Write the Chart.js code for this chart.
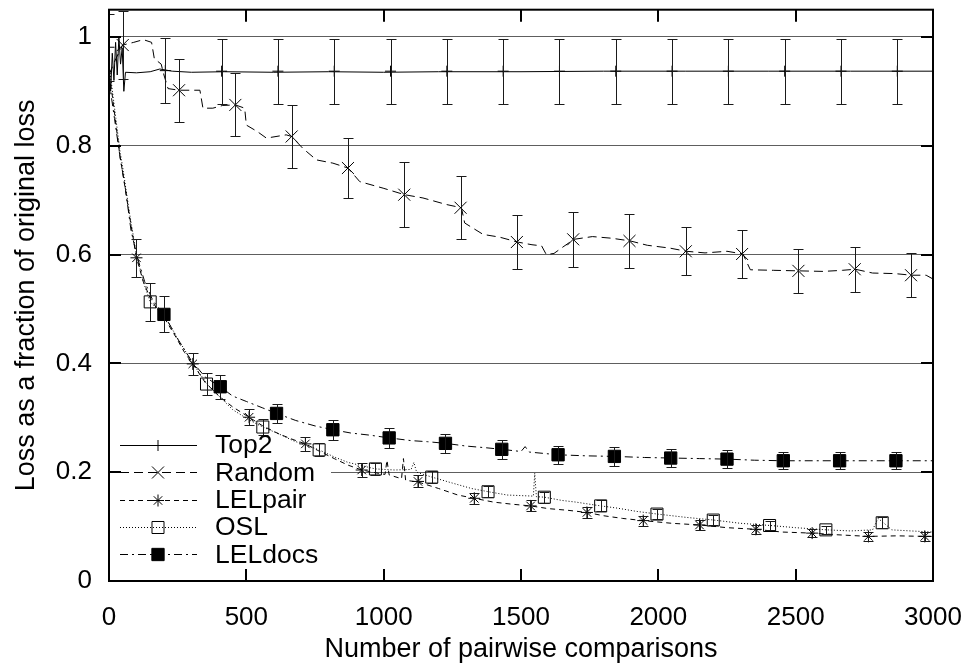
<!DOCTYPE html>
<html>
<head>
<meta charset="utf-8">
<script src="https://cdn.jsdelivr.net/npm/chart.js@4.4.1/dist/chart.umd.min.js"></script>
<style>
  html, body { margin: 0; padding: 0; background: #fff; }
  #wrap { width: 972px; height: 666px; }
</style>
</head>
<body>
<div id="wrap"><canvas id="lossChart" width="972" height="666"></canvas></div>
<script>
// axes
const xTicks = [0, 500, 1000, 1500, 2000, 2500, 3000];
const yTicks = [0, 0.2, 0.4, 0.6, 0.8, 1];
const seriesNames = ['Top2', 'Random', 'LELpair', 'OSL', 'LELdocs'];

// lines, [comparisons, loss]
const top2Line = [[0,0.96],[6,0.90],[12,0.97],[18,0.92],[24,0.99],[30,0.93],[36,1.0],[42,0.95],[48,0.98],[54,0.90],[60,0.935],
  [100,0.934],[150,0.936],[185,0.941],[230,0.937],[300,0.935],[420,0.936],[600,0.935],[800,0.936],[1000,0.935],
  [1200,0.936],[1500,0.936],[1800,0.937],[2100,0.937],[2400,0.937],[2700,0.937],[3000,0.937]];

const randomLine = [[0,0.93],[25,0.96],[50,0.985],[90,0.99],[125,0.995],[155,0.99],[165,0.96],[190,0.95],[200,0.93],
  [215,0.905],[255,0.902],[331,0.902],[342,0.869],[378,0.869],[414,0.874],[460,0.875],[494,0.869],[500,0.838],
  [540,0.826],[573,0.814],[645,0.82],[665,0.817],[706,0.795],[755,0.774],[815,0.768],[870,0.759],[913,0.734],
  [998,0.722],[1076,0.71],[1143,0.704],[1228,0.692],[1283,0.686],[1295,0.658],[1362,0.637],[1422,0.632],
  [1487,0.623],[1540,0.618],[1575,0.616],[1592,0.600],[1620,0.602],[1653,0.614],[1693,0.628],[1760,0.633],
  [1830,0.630],[1898,0.625],[1960,0.617],[2040,0.612],[2102,0.606],[2170,0.603],[2250,0.606],[2308,0.601],
  [2335,0.572],[2420,0.571],[2512,0.570],[2600,0.569],[2670,0.571],[2717,0.573],[2780,0.566],[2860,0.565],
  [2923,0.562],[2975,0.562],[3000,0.555]];

const lelpairLine = [[0,0.93],[10,0.90],[20,0.86],[30,0.82],[40,0.78],[50,0.75],[75,0.67],[100,0.594],[125,0.55],
  [150,0.52],[175,0.50],[200,0.485],[245,0.447],[275,0.42],[305,0.399],[350,0.365],[400,0.34],[450,0.32],
  [510,0.301],[560,0.285],[620,0.27],[670,0.26],[715,0.252],[760,0.24],[820,0.225],[870,0.213],[920,0.204],
  [980,0.198],[1005,0.196],[1012,0.222],[1020,0.195],[1065,0.188],[1072,0.225],[1080,0.185],[1125,0.182],
  [1200,0.17],[1270,0.158],[1330,0.152],[1400,0.145],[1470,0.141],[1535,0.138],[1600,0.133],[1670,0.13],
  [1740,0.126],[1800,0.12],[1870,0.115],[1945,0.111],[2050,0.106],[2150,0.103],[2250,0.098],[2355,0.095],
  [2450,0.09],[2560,0.088],[2650,0.085],[2765,0.082],[2870,0.083],[2970,0.082],[3000,0.082]];

const oslLine = [[0,0.95],[10,0.91],[20,0.87],[30,0.83],[40,0.79],[50,0.76],[75,0.675],[100,0.60],[125,0.55],
  [150,0.513],[175,0.50],[200,0.49],[245,0.45],[275,0.425],[305,0.40],[357,0.362],[400,0.34],[450,0.315],
  [510,0.296],[560,0.283],[620,0.27],[670,0.258],[765,0.241],[820,0.228],[870,0.218],[920,0.212],[970,0.206],
  [1040,0.204],[1100,0.205],[1110,0.218],[1120,0.2],[1175,0.191],[1250,0.18],[1320,0.17],[1382,0.164],
  [1450,0.158],[1545,0.156],[1550,0.198],[1556,0.155],[1586,0.154],[1650,0.148],[1700,0.145],[1791,0.138],
  [1850,0.134],[1920,0.128],[1997,0.123],[2100,0.117],[2202,0.112],[2300,0.106],[2408,0.102],[2500,0.098],
  [2613,0.094],[2700,0.092],[2780,0.094],[2800,0.115],[2820,0.107],[2850,0.094],[2920,0.092],[3000,0.09]];

const leldocsLine = [[0,0.92],[20,0.85],[40,0.78],[60,0.72],[80,0.645],[100,0.60],[130,0.55],[160,0.515],
  [200,0.49],[250,0.445],[300,0.405],[350,0.375],[405,0.357],[450,0.34],[500,0.33],[560,0.318],[610,0.308],
  [680,0.295],[750,0.285],[815,0.278],[880,0.272],[950,0.268],[1020,0.263],[1100,0.258],[1160,0.256],
  [1225,0.253],[1300,0.248],[1370,0.245],[1430,0.242],[1500,0.238],[1515,0.247],[1530,0.237],[1635,0.232],
  [1740,0.23],[1840,0.229],[1950,0.227],[2045,0.226],[2150,0.225],[2250,0.224],[2350,0.222],[2455,0.221],
  [2560,0.221],[2660,0.221],[2770,0.221],[2865,0.221],[3000,0.221]];

// points with error bars
const top2MarkX = [0, 205, 410, 615, 820, 1025, 1230, 1435, 1640, 1845, 2050, 2255, 2460, 2665, 2870];
const top2MarkY = [0.981, 0.938, 0.937, 0.937, 0.937, 0.937, 0.937, 0.937, 0.937, 0.937, 0.937, 0.937, 0.937, 0.937, 0.937];
const top2Err = [0.062, 0.06, 0.06, 0.06, 0.06, 0.06, 0.06, 0.06, 0.06, 0.06, 0.06, 0.06, 0.06, 0.06, 0.06];

const randomMarkX = [50, 255, 460, 665, 870, 1075, 1280, 1485, 1690, 1895, 2100, 2305, 2510, 2715, 2920];
const randomMarkY = [0.985, 0.902, 0.875, 0.817, 0.759, 0.710, 0.686, 0.623, 0.628, 0.625, 0.606, 0.601, 0.570, 0.573, 0.562];
const randomErr = [0.063, 0.058, 0.058, 0.058, 0.055, 0.06, 0.058, 0.049, 0.05, 0.05, 0.044, 0.044, 0.04, 0.041, 0.04];

const lelpairMarkX = [100, 305, 510, 715, 920, 1125, 1330, 1535, 1740, 1945, 2150, 2355, 2560, 2765, 2970];
const lelpairMarkY = [0.594, 0.399, 0.301, 0.252, 0.204, 0.183, 0.152, 0.138, 0.126, 0.111, 0.103, 0.095, 0.088, 0.082, 0.082];
const lelpairErr = [0.035, 0.02, 0.015, 0.013, 0.012, 0.011, 0.01, 0.01, 0.01, 0.009, 0.009, 0.008, 0.008, 0.008, 0.008];

const oslMarkX = [150, 355, 560, 765, 970, 1175, 1380, 1585, 1790, 1995, 2200, 2405, 2610, 2815];
const oslMarkY = [0.513, 0.362, 0.283, 0.241, 0.206, 0.191, 0.164, 0.154, 0.138, 0.123, 0.112, 0.102, 0.094, 0.107];
const oslErr = [0.035, 0.02, 0.015, 0.012, 0.011, 0.011, 0.01, 0.01, 0.01, 0.009, 0.009, 0.008, 0.008, 0.01];

const leldocsMarkX = [200, 405, 610, 815, 1020, 1225, 1430, 1635, 1840, 2045, 2250, 2455, 2660, 2865];
const leldocsMarkY = [0.490, 0.357, 0.308, 0.278, 0.263, 0.253, 0.242, 0.232, 0.229, 0.226, 0.224, 0.221, 0.221, 0.221];
const leldocsErr = [0.033, 0.022, 0.018, 0.018, 0.018, 0.018, 0.017, 0.017, 0.017, 0.017, 0.017, 0.016, 0.016, 0.016];

const FAMILY = '"Liberation Sans", Arial, Helvetica, sans-serif';
const tickFont = { family: FAMILY, size: 26 };
const titleFont = { family: FAMILY, size: 27 };
const keyFontSize = 26.5;

// line styles + markers for each series (same order as seriesNames)
const styles = [
  { dash: [], mark: 'cross', r: 5.5, fill: 'rgba(0,0,0,0)' },
  { dash: [9, 5], mark: 'crossRot', r: 8.5, fill: 'rgba(0,0,0,0)' },
  { dash: [5, 4], mark: 'star', r: 6, fill: 'rgba(0,0,0,0)' },
  { dash: [1, 2], mark: 'rect', r: 8.5, fill: 'rgba(0,0,0,0)' },
  { dash: [8, 4, 2, 4], mark: 'rect', r: 8.7, fill: '#000' }
];

function toXY(pairs) {
  return pairs.map(p => ({ x: p[0], y: p[1] }));
}

function lineSet(pairs, st) {
  return {
    type: 'line',
    data: toXY(pairs),
    borderColor: '#000',
    borderWidth: 1,
    borderDash: st.dash,
    pointRadius: 0,
    tension: 0,
    fill: false
  };
}

function markSet(xs, ys, errs, st) {
  return {
    type: 'scatter',
    data: xs.map((x, i) => ({ x: x, y: ys[i] })),
    errors: errs,
    showLine: false,
    pointStyle: st.mark,
    pointRadius: st.r,
    pointBorderColor: '#000',
    pointBackgroundColor: st.fill,
    pointBorderWidth: 1
  };
}

// error bars, frame, inward ticks and the key
const decor = {
  id: 'decor',
  beforeDatasetsDraw(chart) {
    // key sits on a blank box (hides the 0.2 grid line)
    const { ctx, chartArea: a } = chart;
    ctx.save();
    ctx.fillStyle = '#fff';
    ctx.fillRect(a.left + 12, 431, 210, 137);
    ctx.restore();
  },
  afterDatasetsDraw(chart) {
    const { ctx, chartArea: a } = chart;
    const xs = chart.scales.x, ys = chart.scales.y;
    ctx.save();
    ctx.beginPath();
    ctx.rect(a.left, a.top, a.right - a.left, a.bottom - a.top);
    ctx.clip();
    ctx.strokeStyle = '#1a1a1a';
    ctx.lineWidth = 1;
    chart.data.datasets.forEach(ds => {
      if (!ds.errors) return;
      ds.data.forEach((p, i) => {
        const px = Math.round(xs.getPixelForValue(p.x)) + 0.5;
        const y1 = Math.round(ys.getPixelForValue(p.y + ds.errors[i])) + 0.5;
        const y2 = Math.round(ys.getPixelForValue(p.y - ds.errors[i])) + 0.5;
        ctx.beginPath();
        ctx.moveTo(px, y1); ctx.lineTo(px, y2);
        ctx.moveTo(px - 5, y1); ctx.lineTo(px + 5, y1);
        ctx.moveTo(px - 5, y2); ctx.lineTo(px + 5, y2);
        ctx.stroke();
      });
    });
    ctx.restore();
  },
  afterDraw(chart) {
    const { ctx, chartArea: a } = chart;
    const xs = chart.scales.x, ys = chart.scales.y;
    ctx.save();
    ctx.strokeStyle = '#000';
    ctx.lineWidth = 2;
    ctx.strokeRect(a.left, a.top, a.right - a.left, a.bottom - a.top);
    ctx.beginPath();
    xTicks.forEach(v => {
      if (v === xTicks[0] || v === xTicks[xTicks.length - 1]) return;
      const px = Math.round(xs.getPixelForValue(v));
      ctx.moveTo(px, a.bottom); ctx.lineTo(px, a.bottom - 12);
      ctx.moveTo(px, a.top); ctx.lineTo(px, a.top + 12);
    });
    yTicks.forEach(v => {
      if (v === 0) return;
      const py = Math.round(ys.getPixelForValue(v));
      ctx.moveTo(a.left, py); ctx.lineTo(a.left + 12, py);
      ctx.moveTo(a.right, py); ctx.lineTo(a.right - 12, py);
    });
    ctx.stroke();

    // key
    const lx0 = a.left + 11, lx1 = a.left + 88, mx = a.left + 49, tx = a.left + 106;
    let ly = 445;
    ctx.font = keyFontSize + 'px ' + FAMILY;
    ctx.textBaseline = 'middle';
    ctx.textAlign = 'left';
    seriesNames.forEach((name, i) => {
      const st = styles[i];
      ctx.lineWidth = 1;
      ctx.strokeStyle = '#000';
      ctx.setLineDash(st.dash);
      ctx.beginPath();
      ctx.moveTo(lx0, Math.round(ly) + 0.5);
      ctx.lineTo(lx1, Math.round(ly) + 0.5);
      ctx.stroke();
      ctx.setLineDash([]);
      ctx.fillStyle = st.fill;
      Chart.helpers.drawPoint(ctx, { pointStyle: st.mark, radius: st.r, borderWidth: 1, rotation: 0 }, mx, Math.round(ly) + 0.5);
      ctx.fillStyle = '#000';
      ctx.fillText(name, tx, ly + 1);
      ly += 27.3;
    });
    ctx.restore();
  }
};

const datasets = [
  lineSet(top2Line, styles[0]),
  lineSet(randomLine, styles[1]),
  lineSet(lelpairLine, styles[2]),
  lineSet(oslLine, styles[3]),
  lineSet(leldocsLine, styles[4]),
  markSet(top2MarkX, top2MarkY, top2Err, styles[0]),
  markSet(randomMarkX, randomMarkY, randomErr, styles[1]),
  markSet(lelpairMarkX, lelpairMarkY, lelpairErr, styles[2]),
  markSet(oslMarkX, oslMarkY, oslErr, styles[3]),
  markSet(leldocsMarkX, leldocsMarkY, leldocsErr, styles[4])
];

new Chart(document.getElementById('lossChart'), {
  type: 'scatter',
  data: { datasets: datasets },
  plugins: [decor],
  options: {
    responsive: false,
    animation: false,
    devicePixelRatio: 1,
    events: [],
    layout: { padding: { top: 7, right: 39, bottom: 0, left: 0 } },
    plugins: { legend: { display: false }, tooltip: { enabled: false } },
    scales: {
      x: {
        type: 'linear',
        min: 0,
        max: 3000,
        afterBuildTicks: s => { s.ticks = xTicks.map(v => ({ value: v })); },
        // fixed box: no extra label padding at the ends
        afterFit: s => { s.height = 85; s.paddingLeft = 0; s.paddingRight = 0; },
        grid: { display: false },
        border: { display: false },
        ticks: { color: '#000', font: tickFont, padding: 13, maxRotation: 0, autoSkip: false, callback: v => String(v) },
        title: { display: true, text: 'Number of pairwise comparisons', color: '#000', font: titleFont, padding: { top: 4, bottom: 0 } }
      },
      y: {
        type: 'linear',
        min: 0,
        max: 1.05,
        afterBuildTicks: s => { s.ticks = yTicks.map(v => ({ value: v })); },
        afterFit: s => { s.width = 109; s.paddingTop = 0; s.paddingBottom = 0; },
        grid: { color: c => (c.tick && c.tick.value === 0) ? 'rgba(0,0,0,0)' : '#5e5e5e', lineWidth: 1, drawTicks: false },
        border: { display: false },
        ticks: { color: '#000', font: tickFont, padding: 17, callback: v => String(Math.round(v * 10) / 10) },
        title: { display: true, text: 'Loss as a fraction of original loss', color: '#000', font: titleFont, padding: { top: 10, bottom: 4 } }
      }
    }
  }
});
</script>
</body>
</html>
